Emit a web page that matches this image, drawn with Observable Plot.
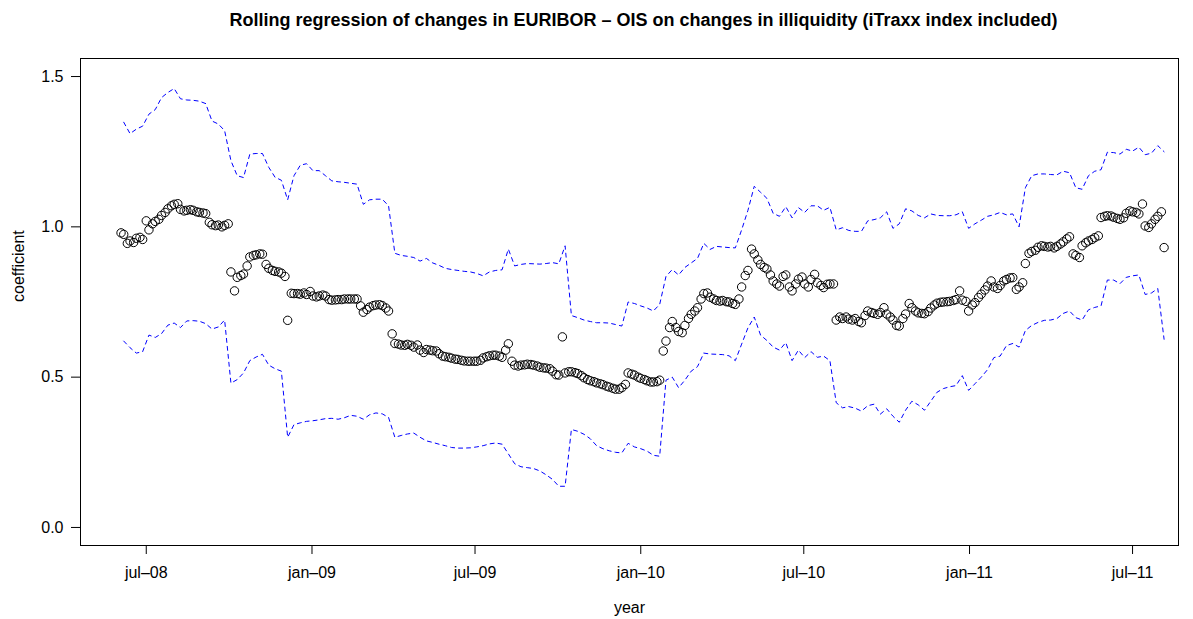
<!DOCTYPE html>
<html><head><meta charset="utf-8">
<script src="https://cdn.jsdelivr.net/npm/d3@7"></script>
<script src="https://cdn.jsdelivr.net/npm/@observablehq/plot@0.6"></script>
<style>body{margin:0;background:#fff}</style>
</head><body><div id="chart"></div>
<script>
const title = "Rolling regression of changes in EURIBOR \u2013 OIS on changes in illiquidity (iTraxx index included)";
const xTitle = "year";
const yTitle = "coefficient";
const tickDates = ["2008-07-01","2009-01-01","2009-07-01","2010-01-01","2010-07-01","2011-01-01","2011-07-01"];
const tickLabels = ["jul\u201308","jan\u201309","jul\u201309","jan\u201310","jul\u201310","jan\u201311","jul\u201311"];
const yTicks = [0, 0.5, 1, 1.5];

// weekly dates (Fridays)
const weeks = [
"2008-06-06","2008-06-13","2008-06-20","2008-06-27","2008-07-04","2008-07-11","2008-07-18","2008-07-25",
"2008-08-01","2008-08-08","2008-08-15","2008-08-22","2008-08-29","2008-09-05","2008-09-12","2008-09-19","2008-09-26",
"2008-10-03","2008-10-10","2008-10-17","2008-10-24","2008-10-31","2008-11-07","2008-11-14","2008-11-21","2008-11-28",
"2008-12-05","2008-12-12","2008-12-19","2008-12-26",
"2009-01-02","2009-01-09","2009-01-16","2009-01-23","2009-01-30","2009-02-06","2009-02-13","2009-02-20","2009-02-27",
"2009-03-06","2009-03-13","2009-03-20","2009-03-27","2009-04-03","2009-04-10","2009-04-17","2009-04-24",
"2009-05-01","2009-05-08","2009-05-15","2009-05-22","2009-05-29","2009-06-05","2009-06-12","2009-06-19","2009-06-26",
"2009-07-03","2009-07-10","2009-07-17","2009-07-24","2009-07-31","2009-08-07","2009-08-14","2009-08-21","2009-08-28",
"2009-09-04","2009-09-11","2009-09-18","2009-09-25","2009-10-02","2009-10-09","2009-10-16","2009-10-23","2009-10-30",
"2009-11-06","2009-11-13","2009-11-20","2009-11-27","2009-12-04","2009-12-11","2009-12-18","2009-12-25",
"2010-01-01","2010-01-08","2010-01-15","2010-01-22","2010-01-29","2010-02-05","2010-02-12","2010-02-19","2010-02-26",
"2010-03-05","2010-03-12","2010-03-19","2010-03-26","2010-04-02","2010-04-09","2010-04-16","2010-04-23","2010-04-30",
"2010-05-07","2010-05-14","2010-05-21","2010-05-28","2010-06-04","2010-06-11","2010-06-18","2010-06-25",
"2010-07-02","2010-07-09","2010-07-16","2010-07-23","2010-07-30","2010-08-06","2010-08-13","2010-08-20","2010-08-27",
"2010-09-03","2010-09-10","2010-09-17","2010-09-24","2010-10-01","2010-10-08","2010-10-15","2010-10-22","2010-10-29",
"2010-11-05","2010-11-12","2010-11-19","2010-11-26","2010-12-03","2010-12-10","2010-12-17","2010-12-24","2010-12-31",
"2011-01-07","2011-01-14","2011-01-21","2011-01-28","2011-02-04","2011-02-11","2011-02-18","2011-02-25",
"2011-03-04","2011-03-11","2011-03-18","2011-03-25","2011-04-01","2011-04-08","2011-04-15","2011-04-22","2011-04-29",
"2011-05-06","2011-05-13","2011-05-20","2011-05-27","2011-06-03","2011-06-10","2011-06-17","2011-06-24",
"2011-07-01","2011-07-08","2011-07-15","2011-07-22","2011-07-29","2011-08-05"
];

// coefficient, mid-week (Tuesday, 3 days before each Friday)
const coefTue = [
0.98,0.945,0.948,0.965,1.02,1.01,1.025,1.048,1.07,1.077,
1.053,1.057,1.05,1.046,1.015,1.004,1.0,1.01,0.787,0.838,
0.87,0.905,0.91,0.875,0.855,0.85,0.835,0.779,0.778,0.78,
0.785,0.767,0.773,0.758,0.757,0.758,0.76,0.76,0.737,0.725,
0.738,0.741,0.73,0.644,0.61,0.606,0.606,0.607,0.582,0.59,
0.587,0.57,0.566,0.56,0.556,0.553,0.553,0.556,0.568,0.573,
0.57,0.59,0.553,0.537,0.541,0.542,0.537,0.531,0.528,0.508,
0.634,0.518,0.515,0.505,0.492,0.485,0.478,0.47,0.463,0.46,
0.476,0.51,0.5,0.492,0.484,0.485,0.587,0.665,0.665,0.648,
0.695,0.72,0.76,0.78,0.76,0.753,0.751,0.745,0.76,0.838,
0.926,0.89,0.865,0.84,0.81,0.835,0.8,0.81,0.833,0.8,
0.842,0.805,0.809,0.81,0.7,0.7,0.69,0.685,0.705,0.715,
0.709,0.731,0.7,0.672,0.695,0.745,0.72,0.712,0.718,0.74,
0.749,0.751,0.755,0.787,0.752,0.74,0.765,0.79,0.82,0.795,
0.82,0.83,0.792,0.814,0.912,0.922,0.937,0.933,0.93,0.943,
0.96,0.91,0.898,0.947,0.958,0.97,1.035,1.036,1.028,1.03,
1.053,1.048,1.076,0.998,1.025,1.05
];
// coefficient, end of week (Friday)
const coefFri = [
0.975,0.953,0.962,0.958,0.99,1.018,1.038,1.06,1.075,1.058,
1.055,1.055,1.048,1.044,1.007,1.006,1.005,0.85,0.832,0.843,
0.9,0.907,0.909,0.862,0.852,0.846,0.689,0.778,0.776,0.775,
0.77,0.77,0.77,0.756,0.758,0.76,0.76,0.76,0.716,0.733,
0.74,0.738,0.72,0.612,0.607,0.609,0.6,0.59,0.592,0.588,
0.578,0.568,0.563,0.559,0.554,0.553,0.553,0.564,0.571,0.573,
0.566,0.611,0.54,0.54,0.543,0.54,0.533,0.53,0.52,0.507,
0.514,0.518,0.512,0.498,0.488,0.481,0.475,0.467,0.46,0.465,
0.514,0.507,0.496,0.488,0.484,0.49,0.62,0.685,0.652,0.672,
0.709,0.731,0.778,0.766,0.755,0.755,0.75,0.742,0.8,0.855,
0.91,0.875,0.86,0.82,0.803,0.84,0.787,0.826,0.81,0.825,
0.814,0.798,0.81,0.69,0.695,0.693,0.695,0.681,0.72,0.712,
0.715,0.71,0.69,0.67,0.71,0.731,0.714,0.711,0.73,0.746,
0.75,0.752,0.758,0.756,0.72,0.748,0.776,0.803,0.8,0.805,
0.825,0.831,0.8,0.878,0.918,0.932,0.935,0.935,0.935,0.95,
0.967,0.905,0.937,0.953,0.964,1.031,1.037,1.032,1.025,1.045,
1.05,1.043,1.003,1.01,1.035,0.931
];
// upper and lower confidence bounds (weekly)
const upper = [
1.348,1.31,1.325,1.335,1.375,1.39,1.43,1.447,1.46,1.426,
1.422,1.421,1.418,1.41,1.352,1.342,1.32,1.22,1.17,1.164,
1.242,1.244,1.244,1.198,1.165,1.155,1.09,1.17,1.205,1.21,
1.187,1.187,1.17,1.153,1.15,1.148,1.145,1.142,1.075,1.09,
1.092,1.092,1.07,0.912,0.905,0.902,0.898,0.886,0.895,0.88,
0.872,0.862,0.858,0.855,0.852,0.85,0.845,0.837,0.85,0.855,
0.857,0.926,0.87,0.875,0.878,0.877,0.876,0.878,0.881,0.877,
0.937,0.705,0.698,0.69,0.685,0.681,0.681,0.68,0.675,0.67,
0.75,0.745,0.737,0.73,0.72,0.742,0.835,0.858,0.84,0.865,
0.88,0.895,0.945,0.925,0.935,0.933,0.931,0.93,0.99,1.055,
1.135,1.115,1.095,1.045,1.035,1.067,1.03,1.064,1.048,1.07,
1.07,1.055,1.065,0.99,0.997,0.988,0.985,0.985,1.02,1.024,
1.03,1.05,0.995,1.01,1.06,1.053,1.038,1.03,1.043,1.038,
1.037,1.037,1.04,1.05,0.995,1.01,1.022,1.035,1.04,1.048,
1.04,1.043,1.0,1.13,1.17,1.176,1.176,1.174,1.173,1.185,
1.18,1.13,1.125,1.17,1.185,1.19,1.248,1.247,1.242,1.258,
1.252,1.265,1.24,1.245,1.27,1.25
];
const lower = [
0.62,0.598,0.58,0.585,0.64,0.632,0.645,0.673,0.68,0.665,
0.687,0.688,0.686,0.678,0.66,0.667,0.69,0.48,0.492,0.514,
0.555,0.567,0.576,0.54,0.528,0.52,0.3,0.342,0.348,0.353,
0.355,0.358,0.362,0.363,0.36,0.365,0.373,0.37,0.36,0.375,
0.381,0.378,0.366,0.3,0.306,0.311,0.314,0.3,0.288,0.283,
0.277,0.272,0.266,0.264,0.264,0.265,0.268,0.272,0.278,0.281,
0.277,0.245,0.212,0.202,0.199,0.196,0.188,0.175,0.16,0.137,
0.137,0.326,0.32,0.31,0.295,0.272,0.262,0.255,0.25,0.248,
0.28,0.268,0.262,0.254,0.24,0.237,0.49,0.5,0.465,0.49,
0.52,0.535,0.58,0.577,0.576,0.575,0.571,0.555,0.61,0.664,
0.7,0.64,0.622,0.6,0.59,0.615,0.555,0.59,0.565,0.585,
0.566,0.57,0.555,0.415,0.398,0.402,0.397,0.387,0.405,0.41,
0.377,0.395,0.37,0.35,0.39,0.42,0.408,0.39,0.42,0.45,
0.462,0.468,0.472,0.505,0.456,0.478,0.5,0.525,0.565,0.57,
0.605,0.612,0.6,0.655,0.672,0.682,0.689,0.69,0.695,0.712,
0.72,0.698,0.69,0.724,0.732,0.737,0.823,0.823,0.811,0.832,
0.837,0.84,0.775,0.78,0.795,0.626
];

const DAY = 864e5;
const band = weeks.map((d, i) => ({date: new Date(d), upper: upper[i], lower: lower[i]}));
const pts = [];
weeks.forEach((d, i) => {
  const fri = new Date(d);
  pts.push({date: new Date(+fri - 3 * DAY), coef: coefTue[i]});
  pts.push({date: fri, coef: coefFri[i]});
});
const labelOf = new Map(tickDates.map((d, i) => [+new Date(d), tickLabels[i]]));

const font = "'Liberation Sans', Arial, Helvetica, sans-serif";
const chart = Plot.plot({
  width: 1193,
  height: 619,
  marginLeft: 80,
  marginRight: 15,
  marginTop: 58,
  marginBottom: 74,
  style: {fontFamily: font, fontSize: "16px", background: "#fff", color: "#000"},
  x: {type: "utc", domain: [new Date("2008-04-19"), new Date("2011-08-21")],
      ticks: tickDates.map(d => new Date(d)), tickFormat: d => labelOf.get(+d),
      tickSize: 9, tickPadding: 12, label: null},
  y: {domain: [-0.06, 1.56], ticks: yTicks, tickFormat: d => d.toFixed(1),
      tickSize: 9, tickPadding: 8, label: null},
  marks: [
    Plot.frame({stroke: "#000", strokeWidth: 1}),
    Plot.line(band, {x: "date", y: "upper", stroke: "#0000ff", strokeWidth: 1, strokeDasharray: "4,4"}),
    Plot.line(band, {x: "date", y: "lower", stroke: "#0000ff", strokeWidth: 1, strokeDasharray: "4,4"}),
    Plot.dot(pts, {x: "date", y: "coef", r: 4.2, stroke: "#000", strokeWidth: 1, fill: "none"}),
    Plot.text([title], {text: d => d, frameAnchor: "top", dx: 14, dy: -38, fontWeight: "bold", fontSize: 18, lineAnchor: "middle"}),
    Plot.text([xTitle], {text: d => d, frameAnchor: "bottom", dy: 62, fontSize: 16, lineAnchor: "middle"}),
    Plot.text([yTitle], {text: d => d, frameAnchor: "left", dx: -62, rotate: -90, fontSize: 16, lineAnchor: "middle"})
  ]
});
document.getElementById("chart").appendChild(chart);
</script>
</body></html>
